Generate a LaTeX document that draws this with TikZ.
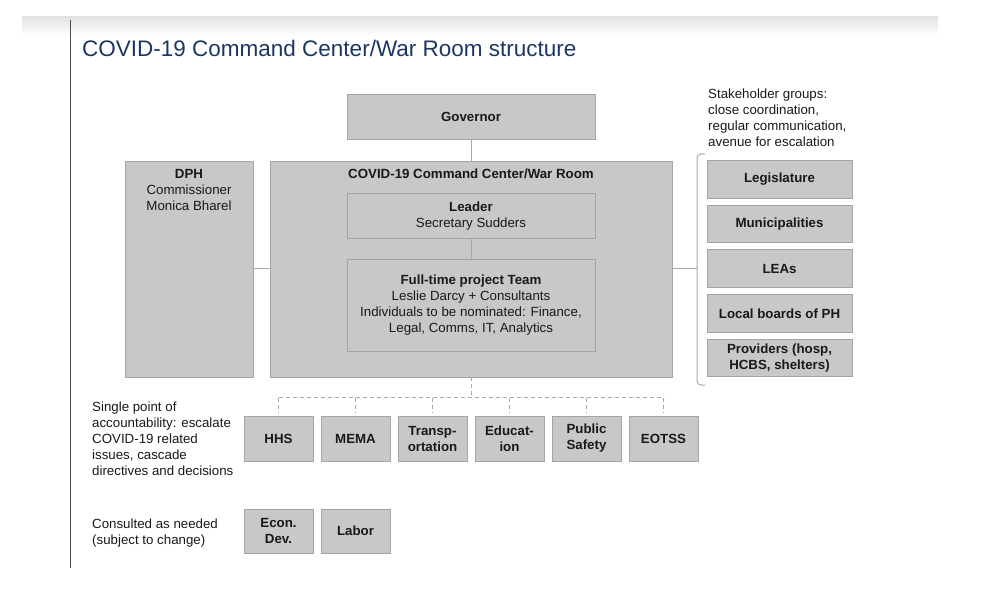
\documentclass[tikz,border=0pt]{standalone}
\usepackage{fontspec}
\setmainfont{Liberation Sans}
\definecolor{boxfill}{RGB}{200,200,200}
\definecolor{boxline}{RGB}{165,165,165}
\definecolor{connc}{RGB}{168,168,168}
\definecolor{titleblue}{RGB}{28,54,100}
\definecolor{txt}{RGB}{25,25,25}
\begin{document}
\begin{tikzpicture}[x=1pt,y=-1pt,
  gbox/.style={draw=boxline, fill=boxfill, line width=0.9pt, inner sep=0pt, align=center,
    font=\fontsize{13.3}{16}\selectfont\bfseries, text=txt},
  sbox/.style={gbox, minimum width=69pt, minimum height=45pt},
  rbox/.style={gbox, minimum width=145pt, minimum height=37.5pt},
  lbl/.style={inner sep=0pt, align=center, font=\fontsize{13.3}{16}\selectfont, text=txt},
  side/.style={inner sep=0pt, align=left, font=\fontsize{13.3}{16}\selectfont, text=txt},
  conn/.style={draw=connc, line width=1pt},
  dconn/.style={draw=connc, line width=1pt, dash pattern=on 4pt off 3pt},
]
\useasboundingbox (0,0) rectangle (982,612);
% header band and page rule
\shade[top color=black!11, bottom color=white] (22,17) rectangle (938,36);
\draw[draw=black!70, line width=0.8pt] (70,20) -- (70,568);
\node[anchor=base west, inner sep=0pt, font=\fontsize{22.5}{27}\selectfont, text=titleblue] (title) at (82,57) {COVID-19 Command Center/War Room structure};

% main boxes
\node[gbox, minimum width=248pt, minimum height=45pt] (gov) at (471,116.5) {Governor};
\node[gbox, minimum width=128pt, minimum height=216pt] (dph) at (189,269) {};
\node[lbl, anchor=base] (dphtxt) at (189,210.5) {\textbf{DPH}\\Commissioner\\Monica Bharel};
\node[gbox, minimum width=402pt, minimum height=216pt] (cmd) at (471,269) {};
\node[lbl, anchor=base, font=\fontsize{13.3}{16}\selectfont\bfseries] (cmdtxt) at (471,178.5) {COVID-19 Command Center/War Room};
\node[gbox, minimum width=248pt, minimum height=45pt, text depth=2pt] (lead) at (471,215.5) {Leader\\\mdseries Secretary Sudders};
\node[gbox, minimum width=248pt, minimum height=92pt, text depth=2pt] (team) at (471,305) {Full-time project Team\\\mdseries Leslie Darcy + Consultants\\\mdseries Individuals to be nominated: Finance,\\\mdseries Legal, Comms, IT, Analytics};

\draw[conn] (gov.south) -- (cmd.north);
\draw[conn] (lead.south) -- (team.north);
\draw[conn] (dph.east) -- (cmd.west);

% stakeholders
\node[side, anchor=base west] (stake) at (708,146.5) {Stakeholder groups:\\close coordination,\\regular communication,\\avenue for escalation};
\node[rbox] (leg) at (779.5,179.5) {Legislature};
\node[rbox] (mun) at (779.5,224.1) {Municipalities};
\node[rbox] (lea) at (779.5,268.7) {LEAs};
\node[rbox] (lbph) at (779.5,313.3) {Local boards of PH};
\node[rbox] (prov) at (779.5,357.9) {Providers (hosp,\\HCBS, shelters)};
\coordinate (brace) at (697,269);
\draw[conn] (cmd.east) -- (brace);
\draw[conn, rounded corners=4pt] (705,154) -- (697,154) -- (697,385) -- (705,385);

% departments
\node[sbox] (hhs) at (278.5,438.5) {HHS};
\node[sbox] (mema) at (355.5,438.5) {MEMA};
\node[sbox] (trans) at (432.5,438.5) {Transp-\\ortation};
\node[sbox] (edu) at (509.5,438.5) {Educat-\\ion};
\node[sbox] (pub) at (586.5,438.5) {Public\\Safety};
\node[sbox] (eotss) at (663.5,438.5) {EOTSS};
\coordinate (dj) at (471,397.5);
\draw[dconn] (cmd.south) -- (dj);
\draw[dconn] (hhs.north |- dj) -- (eotss.north |- dj);
\foreach \b in {hhs,mema,trans,edu,pub,eotss}{
  \draw[dconn, shorten >=3pt] (\b.north |- dj) -- (\b.north);
}

\node[sbox, minimum height=44pt] (econ) at (278.5,531) {Econ.\\Dev.};
\node[sbox, minimum height=44pt] (labor) at (355.5,531) {Labor};

% left notes
\node[side, anchor=base west] (spa) at (92,475.5) {Single point of\\accountability: escalate\\COVID-19 related\\issues, cascade\\directives and decisions};
\node[side, anchor=base west] (cons) at (92,544.5) {Consulted as needed\\(subject to change)};
\end{tikzpicture}
\end{document}
